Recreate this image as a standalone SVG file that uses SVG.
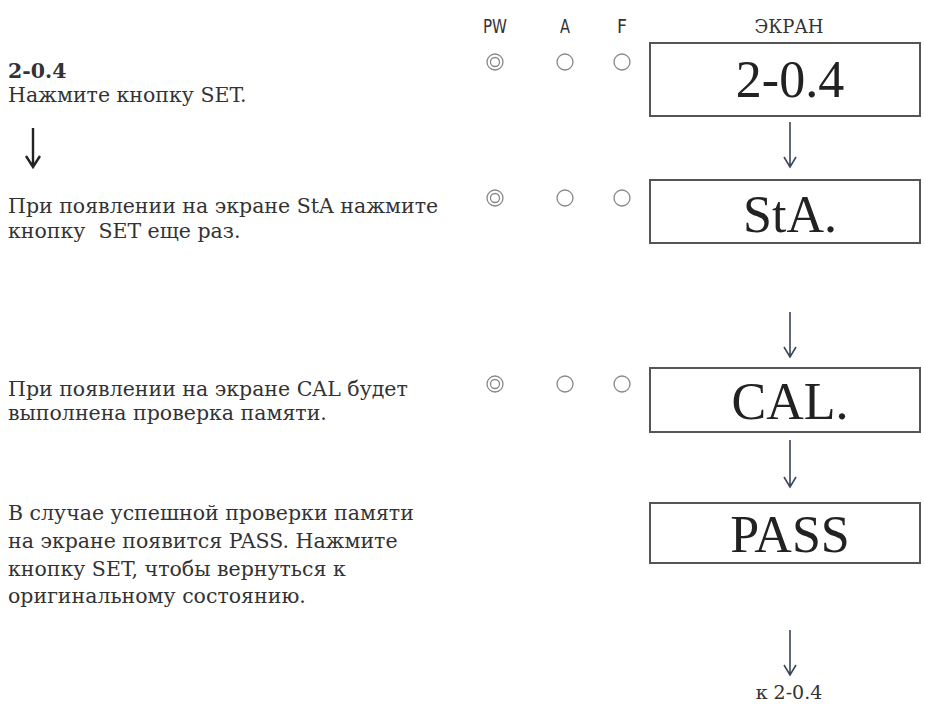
<svg xmlns="http://www.w3.org/2000/svg" width="925" height="706" viewBox="0 0 925 706">
<defs>
<style>
.t{font-family:"DejaVu Serif","Liberation Serif",serif;font-size:20.5px;fill:#333}
.b{font-weight:bold}
.h{font-family:"DejaVu Sans","Liberation Sans",sans-serif;font-size:20px;fill:#333;text-anchor:middle}
.e{font-family:"DejaVu Serif","Liberation Serif",serif;font-size:18px;fill:#333;text-anchor:middle}
.d{font-family:"Liberation Serif","DejaVu Serif",serif;font-size:52px;fill:#222;text-anchor:middle}
.f{font-family:"DejaVu Serif","Liberation Serif",serif;font-size:19px;fill:#333;text-anchor:middle}
.box{fill:#fff;stroke:#555;stroke-width:2}
.led{fill:none;stroke:#888;stroke-width:1.3}
.arr{stroke:#3a4658;stroke-width:1.6;fill:none}
.arrk{stroke:#222;stroke-width:2.4;fill:none}
</style>
</defs>
<rect width="925" height="706" fill="#fff"/>
<g id="headers">
<text class="h" x="495" y="33" textLength="24" lengthAdjust="spacingAndGlyphs">PW</text>
<text class="h" x="565" y="33" textLength="10" lengthAdjust="spacingAndGlyphs">A</text>
<text class="h" x="622" y="33" textLength="10" lengthAdjust="spacingAndGlyphs">F</text>
<text class="e" x="789" y="33">ЭКРАН</text>
</g>
<g id="step1">
<text class="t b" x="8" y="78">2-0.4</text>
<text class="t" x="8" y="102">Нажмите кнопку SET.</text>
</g>
<g id="step2">
<text class="t" x="8" y="213">При появлении на экране StA нажмите</text>
<text class="t" x="8" y="238" xml:space="preserve">кнопку  SET еще раз.</text>
</g>
<g id="step3">
<text class="t" x="8" y="396">При появлении на экране CAL будет</text>
<text class="t" x="8" y="420">выполнена проверка памяти.</text>
</g>
<g id="step4">
<text class="t" x="8" y="520">В случае успешной проверки памяти</text>
<text class="t" x="8" y="548">на экране появится PASS. Нажмите</text>
<text class="t" x="8" y="576">кнопку SET, чтобы вернуться к</text>
<text class="t" x="8" y="603">оригинальному состоянию.</text>
</g>
<g id="leds1">
<circle class="led" cx="495" cy="62" r="8"/><circle class="led" cx="495" cy="62" r="4.5"/>
<circle class="led" cx="565" cy="62" r="8"/>
<circle class="led" cx="622" cy="62" r="8"/>
</g>
<g id="leds2">
<circle class="led" cx="495" cy="198" r="8"/><circle class="led" cx="495" cy="198" r="4.5"/>
<circle class="led" cx="565" cy="198" r="8"/>
<circle class="led" cx="622" cy="198" r="8"/>
</g>
<g id="leds3">
<circle class="led" cx="495" cy="384" r="8"/><circle class="led" cx="495" cy="384" r="4.5"/>
<circle class="led" cx="565" cy="384" r="8"/>
<circle class="led" cx="622" cy="384" r="8"/>
</g>
<g id="screen1"><rect class="box" x="650" y="43" width="270" height="73"/><text class="d" x="790" y="97">2-0.4</text></g>
<g id="screen2"><rect class="box" x="650" y="180" width="270" height="63"/><text class="d" x="790" y="232">StA.</text></g>
<g id="screen3"><rect class="box" x="650" y="368" width="270" height="64"/><text class="d" x="790" y="419">CAL.</text></g>
<g id="screen4"><rect class="box" x="650" y="503" width="270" height="60"/><text class="d" x="790" y="552">PASS</text></g>
<g id="connectors">
<path class="arrk" d="M33 128V166M26 156L33 167L40 156"/>
<path class="arr" d="M790 122V166M784 157L790 167L796 157"/>
<path class="arr" d="M790 312V356M784 347L790 357L796 347"/>
<path class="arr" d="M790 440V486M784 477L790 487L796 477"/>
<path class="arr" d="M790 630V674M784 665L790 675L796 665"/>
</g>
<g id="footer">
<text class="f" x="789" y="699">к 2-0.4</text>
</g>
</svg>
